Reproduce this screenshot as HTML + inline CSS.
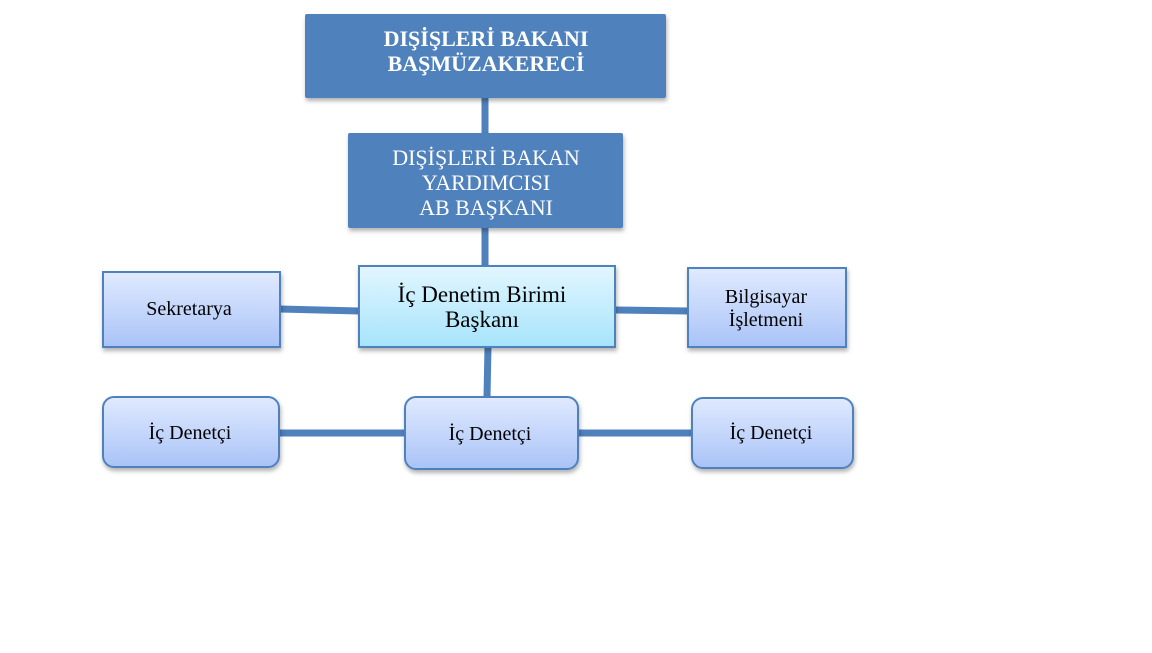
<!DOCTYPE html>
<html><head><meta charset="utf-8"><style>
body{margin:0;background:#fff;width:1152px;height:648px;overflow:hidden}
</style></head><body>
<svg width="1152" height="648" xmlns="http://www.w3.org/2000/svg" font-family="'Liberation Serif', serif">
<defs>
<linearGradient id="g1" x1="0" y1="0" x2="0" y2="1"><stop offset="0" stop-color="#e0eaff"/><stop offset="1" stop-color="#a9c3f7"/></linearGradient>
<linearGradient id="g2" x1="0" y1="0" x2="0" y2="1"><stop offset="0" stop-color="#e2f6ff"/><stop offset="1" stop-color="#a6e4fb"/></linearGradient>
<filter id="sh" x="-10%" y="-10%" width="130%" height="140%"><feDropShadow dx="1" dy="3" stdDeviation="2" flood-color="#000" flood-opacity="0.3"/></filter>
</defs>
<g stroke="#4f81bd" stroke-width="7" fill="none">
<line x1="485" y1="98" x2="485" y2="133"/>
<line x1="485" y1="228" x2="485" y2="266"/>
<line x1="280" y1="309" x2="359" y2="311"/>
<line x1="615" y1="310" x2="688" y2="311"/>
<line x1="488" y1="347" x2="487" y2="397"/>
<line x1="279" y1="433" x2="405" y2="433"/>
<line x1="578" y1="433" x2="692" y2="433"/>
</g>
<rect x="305" y="14" width="361" height="84" rx="2" fill="#4f81bd" filter="url(#sh)"/>
<rect x="348" y="133" width="275" height="95" rx="2" fill="#4f81bd" filter="url(#sh)"/>
<g fill="#fff" text-anchor="middle">
<text x="486" y="46" font-size="22" font-weight="bold">DIŞİŞLERİ BAKANI</text>
<text x="486" y="71" font-size="22" font-weight="bold">BAŞMÜZAKERECİ</text>
<text x="486" y="165" font-size="22">DIŞİŞLERİ BAKAN</text>
<text x="486" y="190" font-size="22">YARDIMCISI</text>
<text x="486" y="215" font-size="22">AB BAŞKANI</text>
</g>
<g stroke="#4f81bd" stroke-width="2" filter="url(#sh)">
<rect x="359" y="266" width="256" height="81" fill="url(#g2)"/>
<rect x="103" y="272" width="177" height="75" fill="url(#g1)"/>
<rect x="688" y="268" width="158" height="79" fill="url(#g1)"/>
<rect x="103" y="397" width="176" height="70" rx="11" fill="url(#g1)"/>
<rect x="405" y="397" width="173" height="72" rx="11" fill="url(#g1)"/>
<rect x="692" y="398" width="161" height="70" rx="11" fill="url(#g1)"/>
</g>
<g fill="#000" text-anchor="middle">
<text x="482" y="302" font-size="23">İç Denetim Birimi</text>
<text x="482" y="327" font-size="23">Başkanı</text>
<text x="189" y="315" font-size="20">Sekretarya</text>
<text x="766" y="303" font-size="20">Bilgisayar</text>
<text x="766" y="326" font-size="20">İşletmeni</text>
<text x="190" y="439" font-size="20">İç Denetçi</text>
<text x="490" y="440" font-size="20">İç Denetçi</text>
<text x="771" y="439" font-size="20">İç Denetçi</text>
</g>
</svg>
</body></html>
